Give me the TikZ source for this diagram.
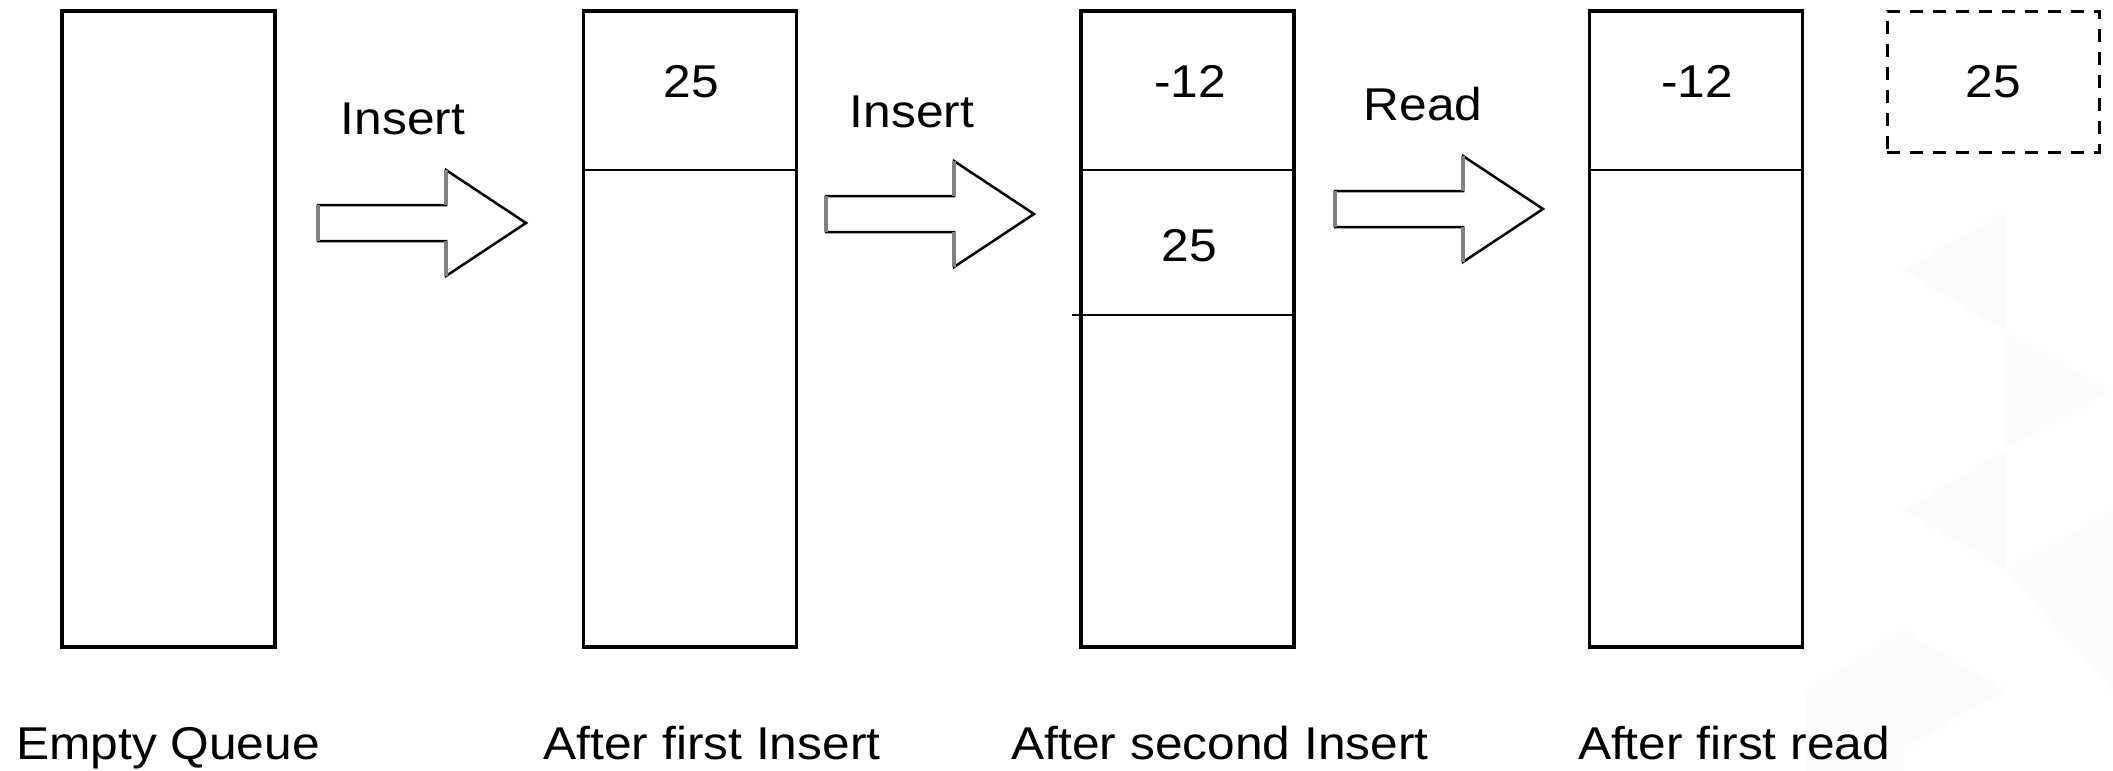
\documentclass[tikz,border=0pt]{standalone}
\usepackage{fontspec}
\setmainfont{Liberation Sans}[FakeStretch=1.08]
\usepackage{tikz}

\tikzset{
  lbl/.style={font=\fontsize{46}{50}\selectfont, inner sep=0pt, anchor=base},
  queue/.style={draw, line width=3.5pt, minimum width=213pt, minimum height=636pt, inner sep=0pt},
  cell/.style={line width=2.5pt},
  arrline/.style={line width=2.5pt, line join=miter},
  fatarrow/.pic={
    \draw[arrline] (0,-18) -- (128,-18) -- (128,-53) -- (208,0) -- (128,53) -- (128,18) -- (0,18) -- cycle;
    \draw[gray, line width=4pt] (0,-18) -- (0,18) (128,-18) -- (128,-53) (128,18) -- (128,53);
  }
}

\begin{document}
\begin{tikzpicture}[x=1pt,y=-1pt]
	\useasboundingbox (0,0) rectangle (2113,771);
	% faint backdrop
	\fill[black!1.5] (1903,270) -- (2005,211) -- (2005,331) -- cycle;
	\fill[black!1] (2005,331) -- (2113,391) -- (2005,450) -- cycle;
	\fill[black!1.5] (1903,510) -- (2005,450) -- (2005,570) -- cycle;
	\fill[black!1] (2005,570) -- (2113,510) -- (2113,690) -- cycle;
	\fill[black!1.5] (1903,630) -- (2005,690) -- (1903,750) -- cycle;
	\fill[black!1] (1806,690) -- (1903,630) -- (1903,771) -- (1806,771) -- cycle;

	% queues
	\node[queue] (q1) at (168.5,329) {};
	\node[queue] (q2) at (690,329) {};
	\node[queue] (q3) at (1187.5,329) {};
	\node[queue] (q4) at (1696,329) {};
	\node[draw, line width=3pt, dash pattern=on 13pt off 10pt, minimum width=212pt, minimum height=141pt] (out) at (1993,81.5) {};

	\draw[cell] (q2.west |- 0,170) -- (q2.east |- 0,170);
	\draw[cell] (q3.west |- 0,170) -- (q3.east |- 0,170);
	\draw[cell] ([xshift=-7pt]q3.west |- 0,315) -- (q3.east |- 0,315);
	\draw[cell] (q4.west |- 0,170) -- (q4.east |- 0,170);

	\node[lbl] (v2a) at (691,97) {25};
	\node[lbl] (v3a) at (1190,97) {-12};
	\node[lbl] (v3b) at (1189,261) {25};
	\node[lbl] (v4a) at (1697,97) {-12};
	\node[lbl] (vout) at (1993,97) {25};

	% steps
	\coordinate (s1) at (318,223);
	\coordinate (s2) at (826,214);
	\coordinate (s3) at (1335,209);
	\pic at (s1) {fatarrow};
	\pic at (s2) {fatarrow};
	\pic at (s3) {fatarrow};
	\node[lbl] (t1) at (403,134) {Insert};
	\node[lbl] (t2) at (912,127) {Insert};
	\node[lbl] (t3) at (1423,120) {Read};

	\node[lbl] (c1) at (168,759) {Empty Queue};
	\node[lbl] (c2) at (712,759) {After first Insert};
	\node[lbl] (c3) at (1220,759) {After second Insert};
	\node[lbl] (c4) at (1734,759) {After first read};
\end{tikzpicture}
\end{document}
